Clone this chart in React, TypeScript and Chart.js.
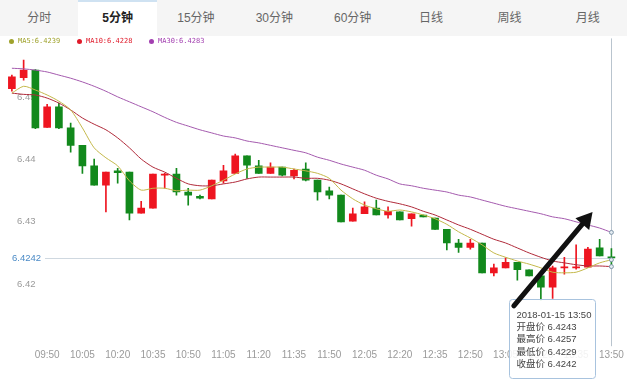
import React, { useEffect, useRef } from 'react';
import { Chart, registerables } from 'chart.js';

Chart.register(...registerables);

const tabs = ['分时', '5分钟', '15分钟', '30分钟', '60分钟', '日线', '周线', '月线'];
const selectedTab = '5分钟';
const tooltipDate = '2018-01-15';

const times = [
  '09:35', '09:40', '09:45', '09:50', '09:55', '10:00', '10:05', '10:10', '10:15', '10:20', '10:25', '10:30',
  '10:35', '10:40', '10:45', '10:50', '10:55', '11:00', '11:05', '11:10', '11:15', '11:20', '11:25', '11:30',
  '11:35', '11:40', '11:45', '11:50', '11:55', '12:00', '12:05', '12:10', '12:15', '12:20', '12:25', '12:30',
  '12:35', '12:40', '12:45', '12:50', '12:55', '13:00', '13:05', '13:10', '13:15', '13:20', '13:25', '13:30',
  '13:35', '13:40', '13:45', '13:50',
];

const xTickLabels = [
  '09:50', '10:05', '10:20', '10:35', '10:50', '11:05', '11:20', '11:35', '11:50',
  '12:05', '12:20', '12:35', '12:50', '13:05', '13:20', '13:35', '13:50',
];

const yTickLabels = [6.42, 6.43, 6.44, 6.45];

const open = [
  6.4514, 6.4532, 6.4544, 6.4452, 6.4485, 6.4451, 6.4423, 6.4390, 6.4359, 6.4382, 6.4380, 6.4314,
  6.4322, 6.4375, 6.4377, 6.4348, 6.4341, 6.4337, 6.4366, 6.4378, 6.4406, 6.4390, 6.4378, 6.4388,
  6.4374, 6.4385, 6.4367, 6.4350, 6.4343, 6.4301, 6.4313, 6.4322, 6.4311, 6.4316, 6.4305, 6.4311,
  6.4306, 6.4288, 6.4266, 6.4259, 6.4266, 6.4218, 6.4226, 6.4235, 6.4223, 6.4213, 6.4195, 6.4226,
  6.4226, 6.4227, 6.4258, 6.4243,
];
const close = [
  6.4533, 6.4544, 6.4451, 6.4485, 6.4451, 6.4423, 6.4390, 6.4359, 6.4380, 6.4379, 6.4314, 6.4322,
  6.4377, 6.4377, 6.4348, 6.4343, 6.4338, 6.4367, 6.4382, 6.4406, 6.4391, 6.4378, 6.4388, 6.4375,
  6.4383, 6.4367, 6.4348, 6.4343, 6.4300, 6.4313, 6.4324, 6.4311, 6.4317, 6.4303, 6.4313, 6.4308,
  6.4288, 6.4266, 6.4259, 6.4266, 6.4218, 6.4226, 6.4235, 6.4223, 6.4213, 6.4195, 6.4226, 6.4227,
  6.4227, 6.4256, 6.4245, 6.4242,
];
const high = [
  6.4536, 6.4560, 6.4545, 6.4489, 6.4491, 6.4459, 6.4423, 6.4401, 6.4380, 6.4386, 6.4380, 6.4333,
  6.4377, 6.4378, 6.4386, 6.4354, 6.4343, 6.4367, 6.4391, 6.4409, 6.4406, 6.4399, 6.4395, 6.4388,
  6.4385, 6.4395, 6.4367, 6.4356, 6.4343, 6.4322, 6.4332, 6.4335, 6.4324, 6.4316, 6.4313, 6.4311,
  6.4306, 6.4288, 6.4272, 6.4272, 6.4266, 6.4232, 6.4242, 6.4235, 6.4223, 6.4213, 6.4229, 6.4243,
  6.4263, 6.4259, 6.4272, 6.4257,
];
const low = [
  6.4510, 6.4528, 6.4450, 6.4452, 6.4450, 6.4412, 6.4378, 6.4359, 6.4316, 6.4362, 6.4303, 6.4314,
  6.4322, 6.4354, 6.4343, 6.4327, 6.4337, 6.4337, 6.4362, 6.4378, 6.4370, 6.4378, 6.4378, 6.4374,
  6.4369, 6.4366, 6.4335, 6.4337, 6.4300, 6.4301, 6.4313, 6.4311, 6.4306, 6.4303, 6.4293, 6.4308,
  6.4288, 6.4255, 6.4251, 6.4256, 6.4218, 6.4213, 6.4226, 6.4206, 6.4213, 6.4174, 6.4177, 6.4216,
  6.4224, 6.4227, 6.4245, 6.4229,
];

const ma5 = [
  6.4507, 6.4518, 6.4512, 6.4504, 6.4494, 6.4480, 6.4451, 6.4419, 6.4403, 6.4390, 6.4366, 6.4351,
  6.4354, 6.4354, 6.4350, 6.4351, 6.4351, 6.4358, 6.4367, 6.4377, 6.4385, 6.4388, 6.4388, 6.4388,
  6.4385, 6.4382, 6.4378, 6.4370, 6.4351, 6.4337, 6.4327, 6.4321, 6.4317, 6.4319, 6.4316, 6.4311,
  6.4305, 6.4296, 6.4284, 6.4274, 6.4263, 6.4250, 6.4243, 6.4237, 6.4232, 6.4226, 6.4219, 6.4218,
  6.4219, 6.4226, 6.4234, 6.4239,
];
const ma10 = [
  6.4507, 6.4505, 6.4504, 6.4499, 6.4491, 6.4480, 6.4467, 6.4457, 6.4448, 6.4435, 6.4419, 6.4401,
  6.4388, 6.4380, 6.4370, 6.4361, 6.4358, 6.4358, 6.4361, 6.4364, 6.4369, 6.4372, 6.4372, 6.4372,
  6.4372, 6.4370, 6.4370, 6.4367, 6.4361, 6.4353, 6.4345, 6.4338, 6.4333, 6.4329, 6.4324, 6.4317,
  6.4311, 6.4303, 6.4295, 6.4288, 6.4280, 6.4272, 6.4266, 6.4258, 6.4250, 6.4243, 6.4237, 6.4234,
  6.4231, 6.4229, 6.4229, 6.4228,
];
const ma30 = [
  6.4547, 6.4546, 6.4544, 6.4541, 6.4536, 6.4531, 6.4525, 6.4518, 6.4510, 6.4501, 6.4493, 6.4485,
  6.4477, 6.4468, 6.4460, 6.4454, 6.4448, 6.4443, 6.4438, 6.4435, 6.4430, 6.4427, 6.4423, 6.4419,
  6.4415, 6.4411, 6.4404, 6.4399, 6.4393, 6.4388, 6.4383, 6.4375, 6.4369, 6.4361, 6.4358, 6.4354,
  6.4351, 6.4348, 6.4343, 6.4340, 6.4335, 6.4330, 6.4325, 6.4321, 6.4317, 6.4313, 6.4308, 6.4305,
  6.4300, 6.4295, 6.4290, 6.4283,
];

// hand-drawn annotation arrow (category index, price)
const arrowFrom = { index: 42.7, price: 6.4165 };
const arrowTo = { index: 49.4, price: 6.4316 };

const RED = '#ee1520';
const GREEN = '#12891c';
const MA5_COLOR = '#c4b84a';
const MA10_COLOR = '#b02a3a';
const MA30_COLOR = '#a45aae';
const FONT = '"Liberation Sans", Arial, "Noto Sans CJK SC", sans-serif';

export default function App() {
  const ref = useRef<HTMLCanvasElement>(null);

  useEffect(() => {
    document.body.style.margin = '0';
    const canvas = ref.current;
    if (!canvas) return;
    const n = times.length;
    const last = n - 1;
    const colors = times.map((_, i) => (close[i] >= open[i] ? RED : GREEN));
    const lastOnly = times.map((_, i) => (i === last ? 2 : 0));

    const overlay = {
      id: 'overlay',
      beforeDatasetsDraw(chart: any) {
        const c = chart.ctx;
        const y = chart.scales.y;
        const x = chart.scales.x;
        const area = chart.chartArea;
        c.save();
        c.font = `9.5px ${FONT}`;
        c.textBaseline = 'middle';
        c.textAlign = 'left';
        c.fillStyle = '#9a9a9a';
        yTickLabels.forEach((v) => {
          c.fillText(v.toFixed(2), 17, y.getPixelForValue(v));
        });
        const xl = x.getPixelForValue(last);
        const yc = y.getPixelForValue(close[last]);
        c.strokeStyle = '#cfd8e0';
        c.lineWidth = 1;
        c.beginPath();
        c.moveTo(45, Math.round(yc) + 0.5);
        c.lineTo(xl, Math.round(yc) + 0.5);
        c.stroke();
        c.strokeStyle = '#b9c4ce';
        c.beginPath();
        c.moveTo(Math.round(xl) + 0.5, area.top);
        c.lineTo(Math.round(xl) + 0.5, area.bottom);
        c.stroke();
        c.fillStyle = '#4a8ac6';
        c.fillText(close[last].toFixed(4), 12, yc);
        c.restore();
      },
      afterDraw(chart: any) {
        const c = chart.ctx;
        const x = chart.scales.x;
        const y = chart.scales.y;
        const area = chart.chartArea;
        const xl = x.getPixelForValue(last);
        // tooltip
        const w = 86;
        const h = 79;
        const left = xl - 16 - w;
        const top = area.bottom - 47;
        c.save();
        c.fillStyle = 'rgba(255,255,255,0.88)';
        c.strokeStyle = '#a8c3de';
        c.lineWidth = 1;
        c.beginPath();
        (c as any).roundRect(Math.round(left) + 0.5, Math.round(top) + 0.5, w, h, 3);
        c.fill();
        c.stroke();
        const lines = [
          `${tooltipDate} ${times[last]}`,
          `开盘价 ${open[last].toFixed(4)}`,
          `最高价 ${high[last].toFixed(4)}`,
          `最低价 ${low[last].toFixed(4)}`,
          `收盘价 ${close[last].toFixed(4)}`,
        ];
        c.fillStyle = '#444';
        c.font = `9.5px ${FONT}`;
        c.textBaseline = 'middle';
        c.textAlign = 'left';
        lines.forEach((t, i) => c.fillText(t, left + 7, top + 16 + i * 12.3));
        // arrow
        const x0 = x.getPixelForValue(arrowFrom.index);
        const y0 = y.getPixelForValue(arrowFrom.price);
        const x1 = x.getPixelForValue(arrowTo.index);
        const y1 = y.getPixelForValue(arrowTo.price);
        const dx = x1 - x0;
        const dy = y1 - y0;
        const len = Math.hypot(dx, dy);
        const ux = dx / len;
        const uy = dy / len;
        const head = 16;
        const bx = x1 - ux * head;
        const by = y1 - uy * head;
        c.strokeStyle = '#111';
        c.fillStyle = '#111';
        c.lineWidth = 5;
        c.lineCap = 'round';
        c.beginPath();
        c.moveTo(x0, y0);
        c.lineTo(bx + ux * 3, by + uy * 3);
        c.stroke();
        c.beginPath();
        c.moveTo(x1, y1);
        c.lineTo(bx - uy * 9, by + ux * 9);
        c.lineTo(bx + uy * 9, by - ux * 9);
        c.closePath();
        c.fill();
        c.restore();
      },
    };

    const lineDs = (label: string, data: number[], color: string) => ({
      type: 'line' as const,
      label,
      data,
      borderColor: color,
      backgroundColor: color,
      borderWidth: 1,
      tension: 0.25,
      pointRadius: lastOnly,
      pointBorderColor: '#7f95a8',
      pointBackgroundColor: '#e4ecf2',
      pointBorderWidth: 1,
      order: 0,
    });

    const chart = new Chart(canvas, {
      type: 'bar',
      data: {
        labels: times,
        datasets: [
          lineDs('MA5', ma5, MA5_COLOR),
          lineDs('MA10', ma10, MA10_COLOR),
          lineDs('MA30', ma30, MA30_COLOR),
          {
            type: 'bar',
            label: 'wick',
            data: times.map((_, i) => [low[i], high[i]]),
            backgroundColor: colors,
            barThickness: 1,
            grouped: false,
            borderWidth: 0,
            order: 2,
          } as any,
          {
            type: 'bar',
            label: 'body',
            data: times.map((_, i) => [open[i], close[i]]),
            backgroundColor: colors,
            barThickness: 7,
            grouped: false,
            minBarLength: 1,
            borderWidth: 0,
            order: 1,
          } as any,
        ],
      },
      options: {
        animation: false,
        responsive: false,
        maintainAspectRatio: false,
        layout: { padding: { left: 6, right: 9, top: 38.4, bottom: 24.8 } },
        plugins: { legend: { display: false }, tooltip: { enabled: false } },
        scales: {
          x: {
            offset: true,
            grid: { display: false, drawTicks: false },
            border: { display: false },
            ticks: {
              autoSkip: false,
              maxRotation: 0,
              padding: 3,
              color: '#9a9a9a',
              font: { size: 10, family: FONT },
              callback: (v: any) => {
                const t = times[v as number];
                return xTickLabels.includes(t) ? t : '';
              },
            },
          },
          y: {
            display: false,
            min: 6.41,
            max: 6.4595,
          },
        },
      },
      plugins: [overlay],
    } as any);
    return () => chart.destroy();
  }, []);

  const last = times.length - 1;
  const legend = [
    { name: 'MA5', value: ma5[last], color: '#9fa22c', left: 9 },
    { name: 'MA10', value: ma10[last], color: '#e01a2a', left: 77 },
    { name: 'MA30', value: ma30[last], color: '#a23fb0', left: 149 },
  ];

  return (
    <div style={{ position: 'relative', width: 627, height: 389, background: '#fff', overflow: 'hidden', fontFamily: FONT }}>
      <canvas ref={ref} width={627} height={389} style={{ position: 'absolute', left: 0, top: 0, width: 627, height: 389 }} />
      <div style={{ position: 'absolute', left: 0, top: 0, width: 627, height: 36, display: 'flex', background: '#f5f5f5' }}>
        {tabs.map((t) => {
          const sel = t === selectedTab;
          return (
            <div
              key={t}
              style={{
                flex: 1,
                textAlign: 'center',
                lineHeight: '36px',
                fontSize: 12,
                color: sel ? '#222' : '#666',
                fontWeight: sel ? 'bold' : 'normal',
                background: sel ? '#fff' : 'transparent',
                boxShadow: sel ? 'inset 0 2px 0 #cfe2f2' : 'none',
              }}
            >
              {t}
            </div>
          );
        })}
      </div>
      {legend.map((l) => (
        <div
          key={l.name}
          style={{
            position: 'absolute',
            left: l.left,
            top: 36,
            height: 10,
            display: 'flex',
            alignItems: 'center',
            fontFamily: '"DejaVu Sans Mono", monospace',
            fontSize: 7,
            color: l.color,
            whiteSpace: 'nowrap',
          }}
        >
          <span style={{ display: 'inline-block', width: 5, height: 5, borderRadius: '50%', background: l.color, marginRight: 4 }} />
          {`${l.name}:${l.value.toFixed(4)}`}
        </div>
      ))}
    </div>
  );
}
